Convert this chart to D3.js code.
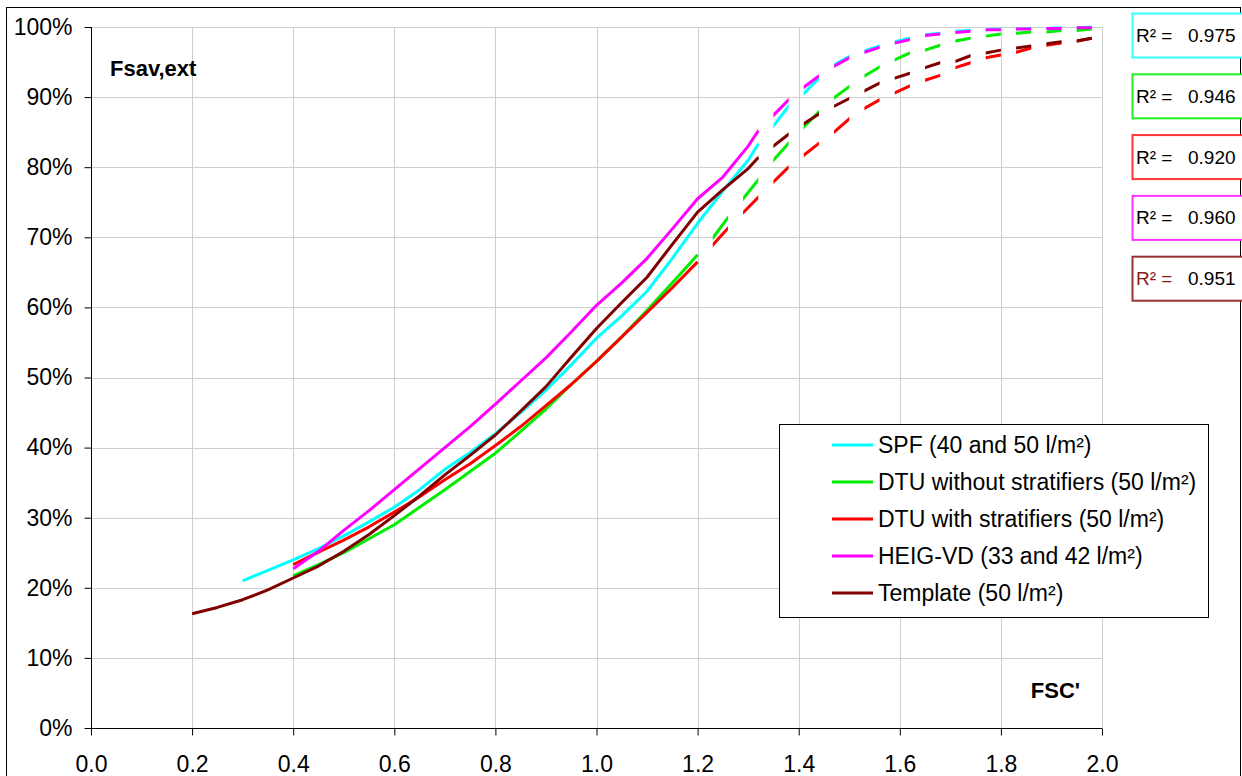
<!DOCTYPE html>
<meta charset="utf-8">
<style>
body { margin: 0; background: #fff; }
svg { font-family: "Liberation Sans", Arial, sans-serif; }
.grid line { stroke: #cfcfcf; stroke-width: 1; }
.axis path, .axis line { stroke: #000; }
.axis text { font-size: 23px; fill: #000; }
.series { fill: none; stroke-width: 3; stroke-linejoin: round; stroke-linecap: butt; }
.legend-text { font-size: 23px; }
.r2-text { font-size: 19px; }
.axis-title { font-size: 22px; font-weight: bold; }
</style>
<body>
<script src="https://cdn.jsdelivr.net/npm/d3@7"></script>
<script>

// series names / colours / R²
var names = ["SPF (40 and 50 l/m²)", "DTU without stratifiers (50 l/m²)", "DTU with stratifiers (50 l/m²)",
             "HEIG-VD (33 and 42 l/m²)", "Template (50 l/m²)"];
var colors = ["#00ffff", "#00ee00", "#ff0000", "#ff00ff", "#800000"];
var r2Values = ["0.975", "0.946", "0.920", "0.960", "0.951"];
var r2Borders = ["#33ffff", "#22ee22", "#ff3333", "#ff33ff", "#993333"];

// end of the measured (solid) range for each series
var fitEnd = [1.32, 1.2, 1.2, 1.32, 1.32];

// measured range, FSC' and Fsav,ext (%)
var spfX = [0.3, 0.35, 0.4, 0.45, 0.5, 0.55, 0.6, 0.65, 0.7, 0.75, 0.8, 0.85, 0.9, 0.95, 1.0, 1.05, 1.1, 1.15, 1.2, 1.25, 1.3, 1.32];
var spfY = [21.0, 22.5, 24.0, 25.6, 27.4, 29.4, 31.5, 34.0, 36.9, 39.3, 42.0, 45.0, 48.2, 51.8, 55.6, 58.8, 62.3, 67.0, 72.0, 76.6, 81.0, 83.3];
var dtuX = [0.4, 0.45, 0.5, 0.55, 0.6, 0.65, 0.7, 0.75, 0.8, 0.85, 0.9, 0.95, 1.0, 1.05, 1.1, 1.15, 1.2];
var dtuNoY = [21.7, 23.3, 25.0, 27.0, 29.0, 31.5, 34.0, 36.6, 39.2, 42.3, 45.5, 49.0, 52.3, 55.8, 59.6, 63.5, 67.5];
var dtuStY = [23.3, 25.1, 26.8, 28.7, 30.8, 33.0, 35.4, 37.7, 40.3, 43.0, 46.0, 49.0, 52.3, 55.8, 59.3, 62.8, 66.5];
var heigX = [0.4, 0.45, 0.5, 0.55, 0.6, 0.65, 0.7, 0.75, 0.8, 0.85, 0.9, 0.95, 1.0, 1.05, 1.1, 1.15, 1.2, 1.25, 1.3, 1.32];
var heigY = [22.7, 25.2, 28.2, 31.0, 34.0, 37.0, 40.0, 43.0, 46.2, 49.5, 52.8, 56.5, 60.3, 63.5, 67.0, 71.2, 75.5, 78.6, 83.0, 85.2];
var tplX = [0.2, 0.25, 0.3, 0.35, 0.4, 0.45, 0.5, 0.55, 0.6, 0.65, 0.7, 0.75, 0.8, 0.85, 0.9, 0.95, 1.0, 1.05, 1.1, 1.15, 1.2, 1.25, 1.3, 1.32];
var tplY = [16.3, 17.2, 18.3, 19.7, 21.4, 23.1, 25.2, 27.6, 30.3, 33.1, 36.1, 38.9, 41.8, 45.2, 48.7, 52.9, 57.0, 60.7, 64.3, 69.0, 73.6, 76.8, 79.8, 81.4];

// extrapolated range (dashed)
var extX = [1.23, 1.26, 1.29, 1.32, 1.35, 1.38, 1.41, 1.44, 1.47, 1.5, 1.53, 1.56, 1.59, 1.62, 1.65, 1.68, 1.71, 1.74, 1.77, 1.8, 1.83, 1.86, 1.89, 1.92, 1.95, 1.98];
var spfExt = [null, null, null, null, 85.9, 88.7, 90.5, 92.7, 94.6, 95.8, 96.6, 97.3, 97.9, 98.4, 98.9, 99.1, 99.4, 99.5, 99.6, 99.7, 99.7, 99.8, 99.8, 99.9, 99.9, 100];
var dtuNoExt = [69.9, 72.8, 75.5, 78.2, 81.0, 83.4, 85.7, 87.9, 89.9, 91.5, 93.0, 94.3, 95.3, 96.3, 96.7, 97.4, 98.0, 98.4, 98.7, 99.0, 99.1, 99.3, 99.3, 99.5, 99.5, 99.7];
var dtuStExt = [68.9, 71.3, 73.5, 75.7, 77.9, 80.0, 81.7, 83.4, 85.0, 86.9, 88.4, 89.6, 90.6, 91.6, 92.4, 93.1, 94.2, 94.9, 95.6, 96.0, 96.4, 97.0, 97.4, 97.7, 98.0, 98.4];
var heigExt = [null, null, null, null, 87.4, 89.6, 91.4, 93.0, 94.4, 95.6, 96.4, 97.1, 97.7, 98.2, 98.8, 99.0, 99.2, 99.4, 99.6, 99.6, 99.7, 99.7, 99.8, 99.8, 99.9, 99.9];
var tplExt = [null, null, null, null, 83.0, 84.7, 86.2, 87.6, 88.7, 89.8, 90.9, 92.0, 92.7, 93.4, 94.2, 94.9, 95.1, 95.9, 96.3, 96.7, 97.0, 97.3, 97.6, 97.9, 98.0, 98.4];

// dash starts for the extrapolation (every 0.06, 0.03 long)
var dashStarts = d3.range(1.23, 1.99, 0.06);
var dashLen = 0.03;

var xTicks = d3.range(0, 2.001, 0.2);
var yTicks = d3.range(0, 101, 10);

var measured = [[spfX, spfY], [dtuX, dtuNoY], [dtuX, dtuStY], [heigX, heigY], [tplX, tplY]];
var extrap = [spfExt, dtuNoExt, dtuStExt, heigExt, tplExt];

var width = 1242, height = 776;
var svg = d3.select("body").append("svg")
    .attr("width", width)
    .attr("height", height);

// outer chart frame
svg.append("rect")
    .attr("x", 6.5).attr("y", 7.5)
    .attr("width", 1234).attr("height", 780)
    .attr("fill", "#fff").attr("stroke", "#000");

var x = d3.scaleLinear().domain([0, 2]).range([91, 1102]);
var y = d3.scaleLinear().domain([0, 100]).range([728, 27]);

// grid
var grid = svg.append("g").attr("class", "grid");
grid.selectAll(".gx").data(xTicks.slice(1)).enter().append("line")
    .attr("x1", d => Math.round(x(d)) + 0.5).attr("x2", d => Math.round(x(d)) + 0.5)
    .attr("y1", y(100)).attr("y2", y(0));
grid.selectAll(".gy").data(yTicks.slice(1)).enter().append("line")
    .attr("y1", d => Math.round(y(d)) + 0.5).attr("y2", d => Math.round(y(d)) + 0.5)
    .attr("x1", x(0)).attr("x2", x(2));

// axes
var yAxis = svg.append("g")
    .attr("class", "axis")
    .attr("transform", "translate(" + (x(0) + 0.5) + ",0)")
    .call(d3.axisLeft(y).tickValues(yTicks).tickSize(7).tickPadding(12)
        .tickFormat(d => d + "%"));
yAxis.select(".domain").attr("d", "M0," + y(100) + "V" + (y(0) + 0.5));

var xAxis = svg.append("g")
    .attr("class", "axis")
    .attr("transform", "translate(0," + (y(0) + 0.5) + ")")
    .call(d3.axisBottom(x).tickValues(xTicks).tickSize(7).tickPadding(20)
        .tickFormat(d3.format(".1f")));
xAxis.select(".domain").attr("d", "M" + x(0) + ",0H" + x(2));

// clip path of dash stripes for the extrapolated part
var clip = svg.append("clipPath").attr("id", "dashes");
clip.selectAll("rect").data(dashStarts).enter().append("rect")
    .attr("x", d => x(d))
    .attr("width", d => x(d + dashLen) - x(d))
    .attr("y", 0).attr("height", height);

var line = d3.line()
    .defined(d => d[1] != null)
    .x(d => x(d[0]))
    .y(d => y(d[1]));

var plot = svg.append("g");
measured.forEach(function(m, i) {
  var pts = m[0].map((v, j) => [v, m[1][j]]);
  plot.append("path")
      .datum(pts)
      .attr("class", "series")
      .attr("stroke", colors[i])
      .attr("d", line);
  var last = pts[pts.length - 1];
  var ext = [last].concat(extX.map((v, j) => [v, extrap[i][j]]).filter(p => p[1] != null && p[0] > fitEnd[i]));
  plot.append("path")
      .datum(ext)
      .attr("class", "series")
      .attr("stroke", colors[i])
      .attr("clip-path", "url(#dashes)")
      .attr("d", line);
});

// axis titles
svg.append("text")
    .attr("class", "axis-title")
    .attr("x", 110).attr("y", 76)
    .text("Fsav,ext");
svg.append("text")
    .attr("class", "axis-title")
    .attr("text-anchor", "end")
    .attr("x", 1080).attr("y", 698)
    .text("FSC'");

// legend
var legend = svg.append("g").attr("transform", "translate(779,424)");
legend.append("rect")
    .attr("x", 0.5).attr("y", 0.5)
    .attr("width", 429).attr("height", 193)
    .attr("fill", "#fff").attr("stroke", "#000");
var rows = legend.selectAll(".row").data(names).enter().append("g")
    .attr("transform", (d, i) => "translate(0," + (21 + i * 37) + ")");
rows.append("line")
    .attr("x1", 53).attr("x2", 94)
    .attr("stroke", (d, i) => colors[i])
    .attr("stroke-width", 3);
rows.append("text")
    .attr("class", "legend-text")
    .attr("x", 99).attr("y", 8)
    .text(d => d);

// R² boxes
var boxes = svg.selectAll(".r2").data(r2Values).enter().append("g")
    .attr("transform", (d, i) => "translate(1132," + (13 + i * 60.8) + ")");
boxes.append("rect")
    .attr("x", 0.5).attr("y", 0.5)
    .attr("width", 130).attr("height", 44)
    .attr("fill", "#fff")
    .attr("stroke", (d, i) => r2Borders[i])
    .attr("stroke-width", 2);
boxes.append("text")
    .attr("class", "r2-text")
    .attr("x", 4).attr("y", 29)
    .attr("fill", (d, i) => i === 4 ? "#8b1a1a" : "#000")
    .text("R² =");
boxes.append("text")
    .attr("class", "r2-text")
    .attr("x", 56).attr("y", 29)
    .text(d => d);

</script>
</body>
